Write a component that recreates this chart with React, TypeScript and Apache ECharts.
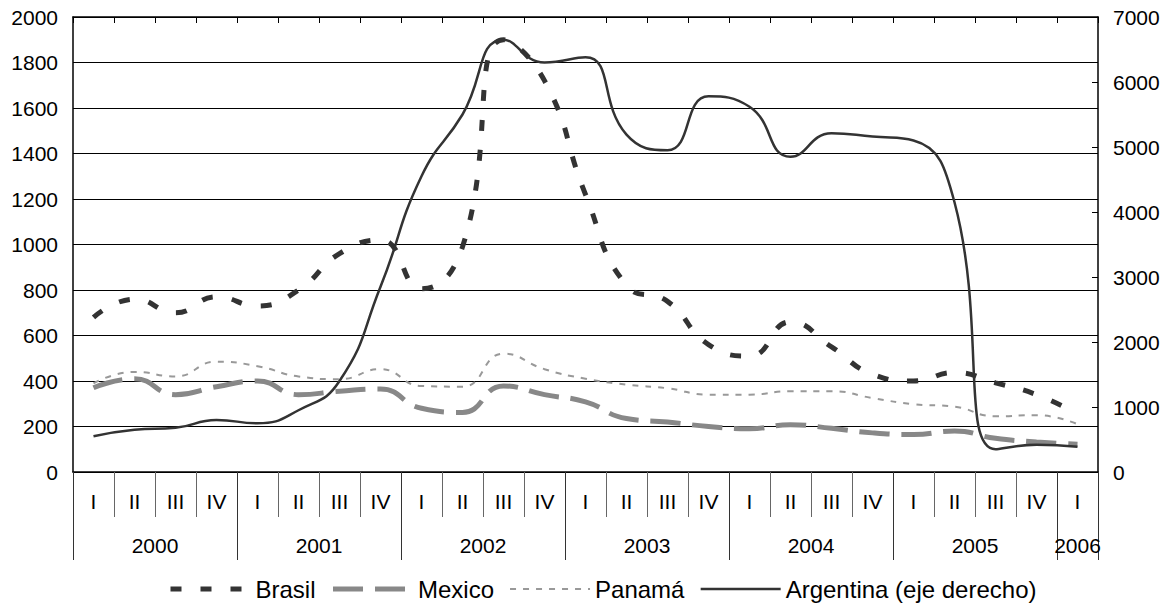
import React, { useEffect, useRef } from 'react';
import * as echarts from 'echarts';

const years = ['2000', '2001', '2002', '2003', '2004', '2005', '2006'];
const quartersPerYear = [4, 4, 4, 4, 4, 4, 1];
const romans = ['I', 'II', 'III', 'IV'];

const brasil = [680, 760, 700, 770, 730, 800, 960, 1020, 805, 990, 1900, 1720, 1220, 820, 750, 560, 510, 660, 550, 430, 400, 437, 392, 340, 255];
const mexico = [370, 410, 340, 375, 400, 340, 355, 365, 280, 262, 378, 340, 308, 235, 220, 200, 190, 208, 192, 172, 165, 180, 148, 132, 122];
const panama = [390, 440, 420, 485, 465, 420, 408, 452, 378, 375, 520, 452, 410, 384, 368, 340, 340, 355, 355, 325, 298, 287, 245, 250, 210];
const argentina = [550, 650, 680, 800, 750, 950, 1400, 2850, 4550, 5500, 6650, 6300, 6380, 5190, 4950, 5780, 5620, 4850, 5210, 5160, 5100, 4150, 350, 420, 390];

const leftTicks = { min: 0, max: 2000, interval: 200 };
const rightTicks = { min: 0, max: 7000, interval: 1000 };

const FONT = 'Liberation Sans, Arial, sans-serif';

const styles = {
  Brasil: { color: '#333', width: 5, type: [11, 19] },
  Mexico: { color: '#888', width: 5, type: [30, 12] },
  Panama: { color: '#999', width: 2, type: [6, 7] },
  Argentina: { color: '#333', width: 2.5, type: 'solid' },
};

export default function App() {
  const ref = useRef<HTMLDivElement>(null);
  useEffect(() => {
    const quarters: string[] = [];
    quartersPerYear.forEach((n) => {
      for (let i = 0; i < n; i++) quarters.push(romans[i]);
    });
    const bounds: number[] = [0];
    const centers: number[] = [];
    const centerLabel: Record<string, string> = {};
    let acc = 0;
    quartersPerYear.forEach((n, i) => {
      const c = acc + n / 2;
      centers.push(c);
      centerLabel[String(c)] = years[i];
      acc += n;
      bounds.push(acc);
    });
    const total = acc;

    const names = ['Brasil', 'Mexico', 'Panamá', 'Argentina (eje derecho)'];
    const styleList = [styles.Brasil, styles.Mexico, styles.Panama, styles.Argentina];

    const chart = echarts.init(ref.current!, null, { renderer: 'svg' });
    chart.setOption({
      animation: false,
      textStyle: { fontFamily: FONT },
      grid: { left: 73, right: 75, top: 17, bottom: 133, containLabel: false },
      legend: {
        left: 163,
        top: 572,
        itemWidth: 80,
        itemHeight: 12,
        itemGap: 15,
        itemStyle: { opacity: 0 },
        textStyle: { fontSize: 24, color: '#000', fontFamily: FONT },
        data: names.map((n, i) => ({
          name: n,
          itemStyle: { opacity: 0 },
          lineStyle: { ...styleList[i] },
        })),
      },
      xAxis: [
        {
          type: 'category',
          data: quarters,
          position: 'bottom',
          boundaryGap: true,
          axisLine: { show: true, lineStyle: { color: '#000', width: 1.5 } },
          axisTick: { show: true, interval: 0, length: 45, lineStyle: { color: '#666' } },
          axisLabel: { interval: 0, fontSize: 21, color: '#000', margin: 19 },
          splitLine: { show: false },
        },
        {
          type: 'value',
          min: 0,
          max: total,
          position: 'bottom',
          axisLine: { show: false },
          axisTick: { show: true, customValues: bounds, length: 88, lineStyle: { color: '#333' } },
          axisLabel: {
            customValues: centers,
            fontSize: 21,
            color: '#000',
            margin: 63,
            formatter: (v: number) => centerLabel[String(v)] ?? '',
          },
          splitLine: { show: false },
        },
        {
          type: 'category',
          data: quarters,
          position: 'top',
          boundaryGap: true,
          axisLine: { show: true, lineStyle: { color: '#000', width: 1.5 } },
          axisTick: { show: true, inside: true, interval: 0, length: 6, lineStyle: { color: '#000' } },
          axisLabel: { show: false },
          splitLine: { show: false },
        },
      ],
      yAxis: [
        {
          type: 'value',
          position: 'left',
          ...leftTicks,
          axisLine: { show: true, lineStyle: { color: '#000', width: 1.5 } },
          axisTick: { show: false },
          axisLabel: { fontSize: 21, color: '#000', margin: 15, formatter: (v: number) => String(v) },
          splitLine: { show: true, lineStyle: { color: '#000', width: 1 } },
        },
        {
          type: 'value',
          position: 'right',
          ...rightTicks,
          axisLine: { show: true, lineStyle: { color: '#000', width: 1.5 } },
          axisTick: { show: true, inside: true, length: 6, lineStyle: { color: '#000' } },
          axisLabel: { fontSize: 21, color: '#000', margin: 15, formatter: (v: number) => String(v) },
          splitLine: { show: false },
        },
      ],
      series: [
        {
          name: names[0],
          type: 'line',
          yAxisIndex: 0,
          data: brasil,
          smooth: true,
          symbol: 'none',
          itemStyle: { color: styles.Brasil.color },
          lineStyle: { ...styles.Brasil },
        },
        {
          name: names[1],
          type: 'line',
          yAxisIndex: 0,
          data: mexico,
          smooth: true,
          symbol: 'none',
          itemStyle: { color: styles.Mexico.color },
          lineStyle: { ...styles.Mexico },
        },
        {
          name: names[2],
          type: 'line',
          yAxisIndex: 0,
          data: panama,
          smooth: true,
          symbol: 'none',
          itemStyle: { color: styles.Panama.color },
          lineStyle: { ...styles.Panama },
        },
        {
          name: names[3],
          type: 'line',
          yAxisIndex: 1,
          data: argentina,
          smooth: true,
          symbol: 'none',
          itemStyle: { color: styles.Argentina.color },
          lineStyle: { ...styles.Argentina },
        },
      ],
    });
    return () => chart.dispose();
  }, []);
  return (
    <div
      ref={ref}
      style={{ position: 'absolute', left: 0, top: 0, width: 1173, height: 605, background: '#fff' }}
    />
  );
}
